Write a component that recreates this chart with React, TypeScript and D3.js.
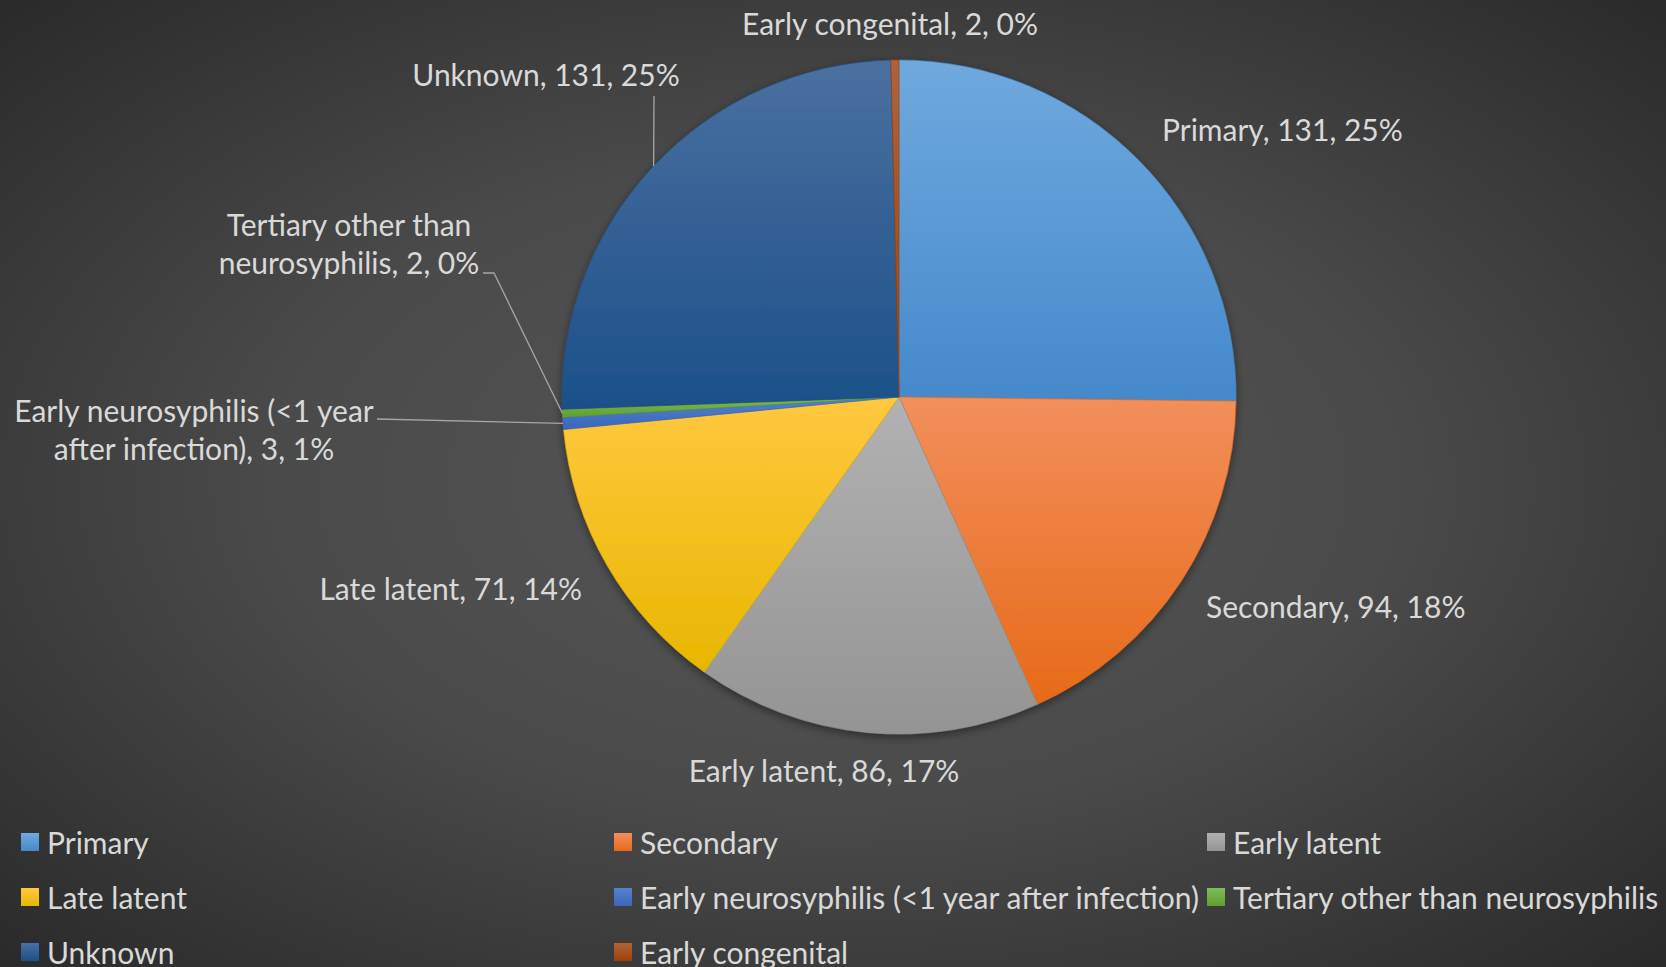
import React from "react";
import * as d3 from "d3";

const categories = [
  "Primary",
  "Secondary",
  "Early latent",
  "Late latent",
  "Early neurosyphilis (<1 year after infection)",
  "Tertiary other than neurosyphilis",
  "Unknown",
  "Early congenital",
];
const values = [131, 94, 86, 71, 3, 2, 131, 2];
const topColors = ["#6FA9DE", "#F28F5C", "#B2B2B2", "#FFC83F", "#5482CE", "#7FBA58", "#4A70A0", "#B0623A"];
const bottomColors = ["#4589CB", "#E76A18", "#949494", "#E8B700", "#3A66BA", "#5E9F30", "#1B5088", "#9E4106"];
const dataLabelLines = [
  ["Primary, 131, 25%"],
  ["Secondary, 94, 18%"],
  ["Early latent, 86, 17%"],
  ["Late latent, 71, 14%"],
  ["Early neurosyphilis (<1 year", "after infection), 3, 1%"],
  ["Tertiary other than", "neurosyphilis, 2, 0%"],
  ["Unknown, 131, 25%"],
  ["Early congenital, 2, 0%"],
];

const W = 1666;
const H = 967;
const CX = 899;
const CY = 397;
const R = 337;
const FONT = "Lato, 'Open Sans', sans-serif";
const TEXT = "#D9D9D9";
const FS = 30;
const LH = 38;

// label layout: x, y (first-line middle), anchor, optional leader elbow
const labelLayout = [
  { x: 1162, y: 129, anchor: "start" },
  { x: 1206, y: 606, anchor: "start" },
  { x: 824, y: 770, anchor: "middle" },
  { x: 582, y: 588, anchor: "end" },
  { x: 194, y: 410, anchor: "middle", leader: [[377, 419]] },
  { x: 349, y: 224, anchor: "middle", leader: [[494, 273], [483, 273]] },
  { x: 546, y: 74, anchor: "middle", leader: [[654, 96]] },
  { x: 890, y: 23, anchor: "middle" },
];

const legendCols = [21, 614, 1207];
const legendRows = [842, 897, 952];

export default function App() {
  const pie = d3.pie<number>().sort(null).value((d) => d)(values);
  const arc = d3.arc<d3.PieArcDatum<number>>().innerRadius(0).outerRadius(R);
  const total = d3.sum(values);

  return (
    <svg
      width={W}
      height={H}
      style={{ position: "absolute", left: 0, top: 0, display: "block" }}
      xmlns="http://www.w3.org/2000/svg"
    >
      <defs>
        <radialGradient id="bg" cx="0.5" cy="0.5" r="0.75" gradientUnits="objectBoundingBox">
          <stop offset="0" stopColor="#565656" />
          <stop offset="0.45" stopColor="#4A4A4A" />
          <stop offset="1" stopColor="#262626" />
        </radialGradient>
        {categories.map((c, i) => (
          <linearGradient key={c} id={`g${i}`} x1="0" y1="0" x2="0" y2="1">
            <stop offset="0" stopColor={topColors[i]} />
            <stop offset="1" stopColor={bottomColors[i]} />
          </linearGradient>
        ))}
        <filter id="shadow" x="-20%" y="-20%" width="140%" height="140%">
          <feGaussianBlur in="SourceAlpha" stdDeviation="5" />
          <feOffset dx="0" dy="3" result="b" />
          <feComponentTransfer>
            <feFuncA type="linear" slope="0.45" />
          </feComponentTransfer>
          <feMerge>
            <feMergeNode />
            <feMergeNode in="SourceGraphic" />
          </feMerge>
        </filter>
      </defs>
      <rect x={0} y={0} width={W} height={H} fill="url(#bg)" />

      <g transform={`translate(${CX},${CY})`} filter="url(#shadow)">
        {pie.map((p, i) => (
          <path
            key={categories[i]}
            d={arc(p) || ""}
            fill={`url(#g${i})`}
            stroke={bottomColors[i]}
            strokeWidth={0.6}
          />
        ))}
      </g>

      {/* leader lines */}
      {pie.map((p, i) => {
        const lay = labelLayout[i];
        if (!lay.leader) return null;
        const mid = (p.startAngle + p.endAngle) / 2;
        const ex = CX + R * Math.sin(mid);
        const ey = CY - R * Math.cos(mid);
        const pts = [[ex, ey], ...lay.leader];
        return (
          <polyline
            key={"ld" + i}
            points={pts.map((q) => q.join(",")).join(" ")}
            fill="none"
            stroke="#A6A6A6"
            strokeWidth={1.3}
          />
        );
      })}

      {/* data labels */}
      {dataLabelLines.map((lines, i) => {
        const lay = labelLayout[i];
        return (
          <text
            key={"t" + i}
            x={lay.x}
            y={lay.y}
            textAnchor={lay.anchor}
            dominantBaseline="central"
            fontFamily={FONT}
            fontSize={FS}
            fill={TEXT}
          >
            {lines.map((ln, k) => (
              <tspan key={k} x={lay.x} y={lay.y + k * LH}>
                {ln}
              </tspan>
            ))}
          </text>
        );
      })}

      {/* legend */}
      {categories.map((c, i) => {
        const col = i % 3;
        const row = Math.floor(i / 3);
        const x = legendCols[col];
        const y = legendRows[row];
        return (
          <g key={"lg" + c}>
            <rect x={x} y={y - 9} width={18} height={18} fill={`url(#g${i})`} />
            <text
              x={x + 26}
              y={y}
              dominantBaseline="central"
              fontFamily={FONT}
              fontSize={FS}
              fill={TEXT}
            >
              {c}
            </text>
          </g>
        );
      })}
      <desc>{`Total ${total}`}</desc>
    </svg>
  );
}
